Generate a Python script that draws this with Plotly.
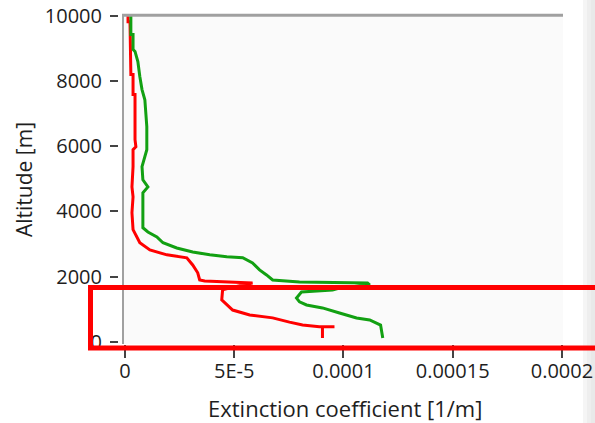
import plotly.graph_objects as go

# Red profile: altitude [m] and extinction coefficient [1/m]
red_alt = [10000, 9810, 9810, 8190, 8190, 7580, 7580, 6200, 5980, 5890, 5370, 4750,
           4450, 3960, 3440, 3220, 3040, 2820, 2670, 2580, 2360, 2120, 1900, 1870,
           1810, 1690, 1600, 1290, 1135, 980, 830, 740, 610, 520, 470, 470, 470, 120]
red_ext = [1.4e-6, 1.4e-6, 2.3e-6, 2.7e-6, 3.7e-6, 3.7e-6, 4.6e-6, 4.6e-6, 5.0e-6, 3.7e-6,
           3.7e-6, 3.2e-6, 3.7e-6, 3.2e-6, 3.7e-6, 5.5e-6, 6.8e-6, 1.14e-5, 1.92e-5,
           2.83e-5, 3.10e-5, 3.33e-5, 3.42e-5, 3.65e-5, 5.84e-5, 5.0e-5, 4.47e-5, 4.43e-5,
           4.66e-5, 4.93e-5, 5.71e-5, 6.76e-5, 7.53e-5, 8.13e-5, 8.90e-5, 9.59e-5, 9.04e-5,
           9.04e-5]

# Green profile
green_alt = [10000, 9420, 9420, 8960, 8900, 8650, 8590, 8130, 7730, 7420, 6600, 5890,
             5370, 4970, 4750, 4570, 3500, 3370, 3220, 3040, 2880, 2760, 2670, 2610,
             2580, 2420, 2210, 2055, 1900, 1840, 1810, 1750, 1655, 1595, 1535, 1350,
             1230, 1135, 1045, 890, 735, 675, 520, 120]
green_ext = [2.7e-6, 2.7e-6, 3.7e-6, 3.7e-6, 4.6e-6, 5.5e-6, 5.9e-6, 6.8e-6, 7.8e-6,
             9.1e-6, 1.0e-5, 1.0e-5, 7.8e-6, 8.2e-6, 1.05e-5, 8.2e-6, 8.2e-6, 1.05e-5,
             1.46e-5, 1.74e-5, 2.37e-5, 3.10e-5, 3.88e-5, 4.66e-5, 5.39e-5, 5.84e-5,
             6.16e-5, 6.48e-5, 6.76e-5, 7.99e-5, 1.11e-4, 1.12e-4, 9.82e-5, 9.50e-5,
             8.08e-5, 7.85e-5, 7.99e-5, 8.31e-5, 9.04e-5, 9.82e-5, 1.06e-4, 1.12e-4,
             1.17e-4, 1.18e-4]

x_tickvals = [0, 5e-5, 1e-4, 1.5e-4, 2e-4]
x_ticktext = ["0", "5E-5", "0.0001", "0.00015", "0.0002"]
y_tickvals = [0, 2000, 4000, 6000, 8000, 10000]
y_ticktext = ["0", "2000", "4000", "6000", "8000", "10000"]

W, H = 595, 423
FONT = "Open Sans"
TXT = "#1e1e1e"
FS = 20


def px(x):
    return x / W


def py(y):
    return 1 - y / H


plot_left, plot_right, plot_top, plot_bottom = 123, 563, 15.5, 344

fig = go.Figure()
fig.add_trace(go.Scatter(x=red_ext, y=red_alt, mode="lines",
                         line=dict(color="#ff0000", width=3), showlegend=False))
fig.add_trace(go.Scatter(x=green_ext, y=green_alt, mode="lines",
                         line=dict(color="#12a012", width=3), showlegend=False))

fig.update_layout(
    width=W, height=H,
    margin=dict(l=0, r=0, t=0, b=0, pad=0),
    paper_bgcolor="white",
    plot_bgcolor="#fafafa",
    font=dict(family=FONT, size=FS, color=TXT),
    xaxis=dict(domain=[px(plot_left), px(plot_right)],
               range=[-9e-7, 2.005e-4], automargin=False,
               tickvals=x_tickvals, ticktext=x_ticktext,
               ticks="outside", ticklen=13, tickwidth=2, tickcolor="#444",
               showline=False, showgrid=False, zeroline=False,
               ticklabelstandoff=-4),
    yaxis=dict(domain=[py(plot_bottom), py(plot_top)],
               range=[-60, 10000], automargin=False,
               anchor="free", position=px(118), side="left",
               tickvals=y_tickvals, ticktext=y_ticktext,
               ticks="outside", ticklen=8, tickwidth=2, tickcolor="#444",
               showline=False, showgrid=False, zeroline=False,
               ticklabelstandoff=4),
)

shapes = [
    # left and top frame of the plot area
    dict(type="line", xref="paper", yref="paper", x0=px(123), x1=px(123),
         y0=py(plot_top), y1=py(plot_bottom), line=dict(color="#a0a0a0", width=2)),
    dict(type="line", xref="paper", yref="paper", x0=px(122), x1=px(563),
         y0=py(15.3), y1=py(15.3), line=dict(color="#a0a0a0", width=3)),
    # soft shade at the right edge
    dict(type="rect", xref="paper", yref="paper", x0=px(583), x1=px(587), y0=0, y1=1,
         fillcolor="#f5f5f5", line=dict(width=0), layer="below"),
    dict(type="rect", xref="paper", yref="paper", x0=px(587), x1=px(591), y0=0, y1=1,
         fillcolor="#eeeeee", line=dict(width=0), layer="below"),
    dict(type="rect", xref="paper", yref="paper", x0=px(591), x1=1, y0=0, y1=1,
         fillcolor="#e9e9e9", line=dict(width=0), layer="below"),
    # highlight box around the lowest layer
    dict(type="rect", xref="paper", yref="paper", x0=px(90.5), x1=px(605),
         y0=py(348), y1=py(287.5), line=dict(color="#ff0000", width=5), layer="above"),
]
fig.update_layout(shapes=shapes)

fig.add_annotation(text="Extinction coefficient [1/m]", xref="paper", yref="paper",
                   x=px(344.5), y=py(408), showarrow=False,
                   font=dict(family=FONT, size=22, color=TXT),
                   xanchor="center", yanchor="middle")
fig.add_annotation(text="Altitude [m]", xref="paper", yref="paper",
                   x=px(24), y=py(180), showarrow=False, textangle=-90,
                   font=dict(family=FONT, size=21, color=TXT),
                   xanchor="center", yanchor="middle")

fig.write_html("out.html")
